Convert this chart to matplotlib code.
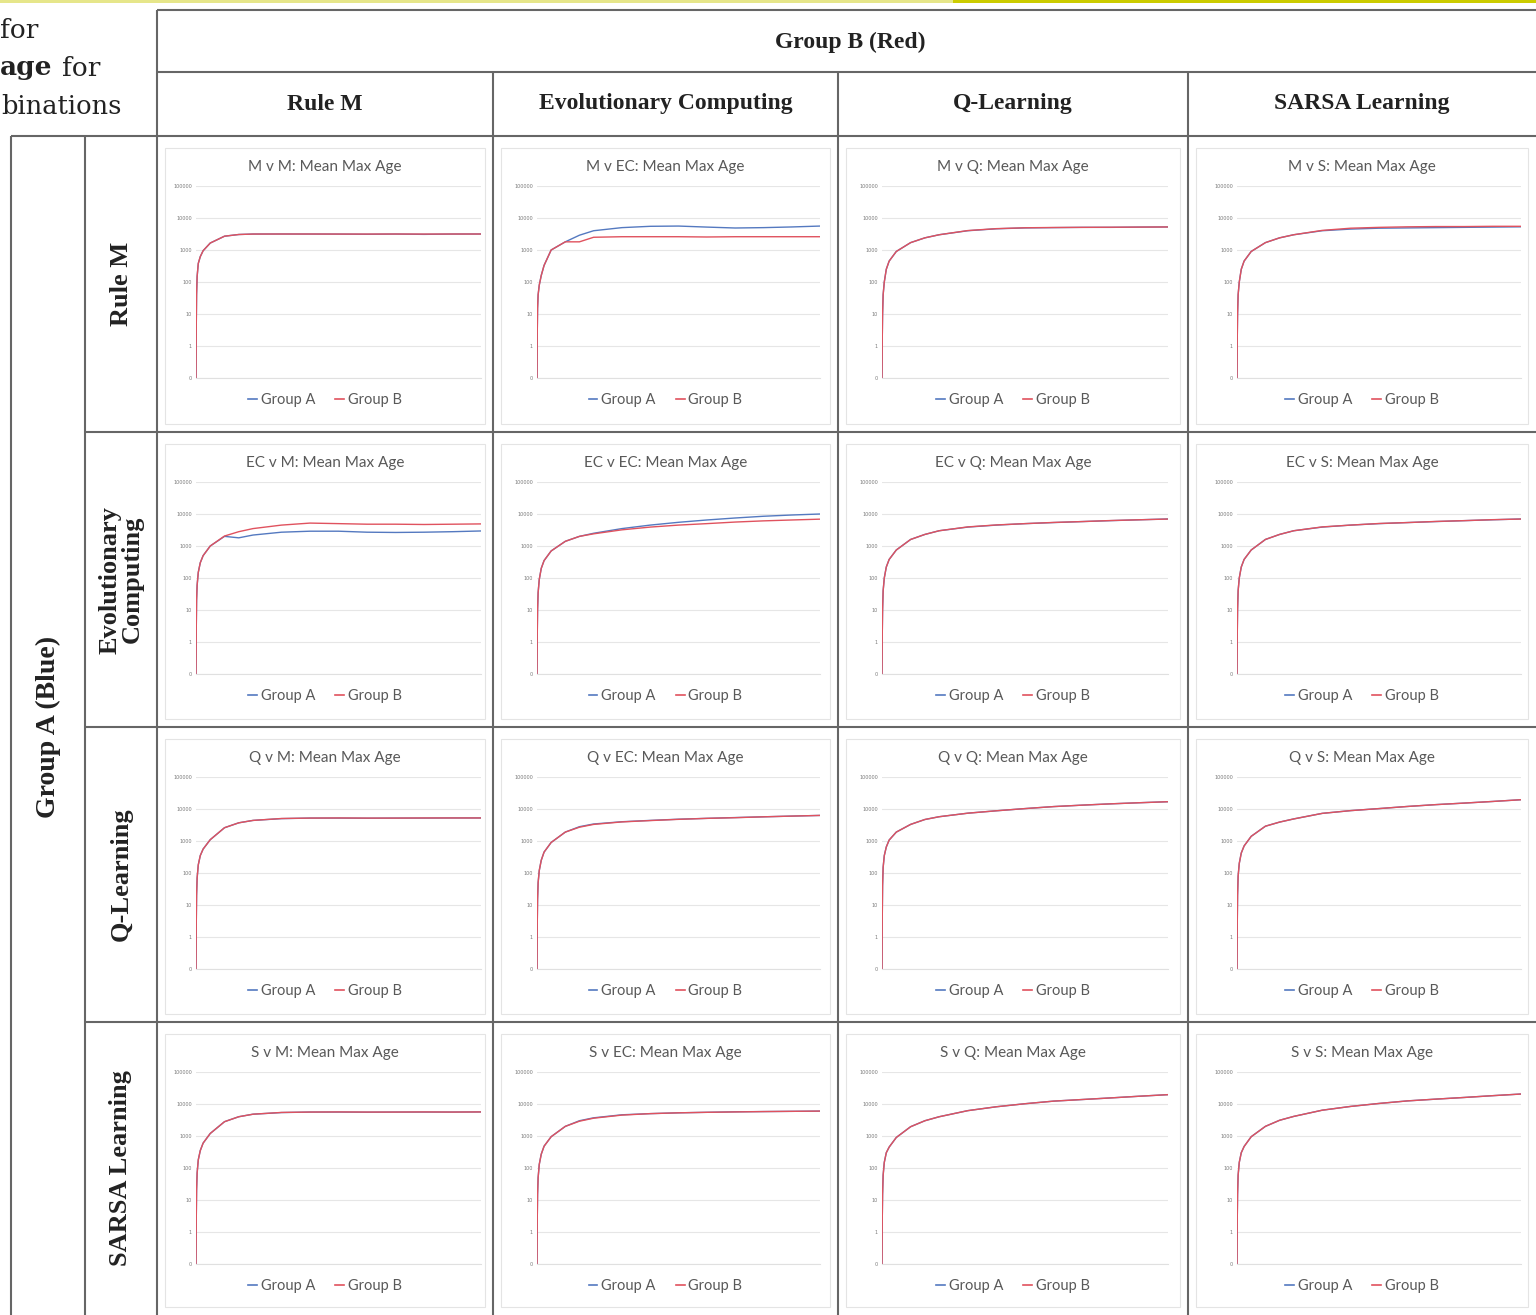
import matplotlib
matplotlib.use("Agg")
import matplotlib.pyplot as plt
from matplotlib.lines import Line2D
from matplotlib.patches import Rectangle

# ---------------- data ----------------
ROW_NAMES = ["Rule M", "Evolutionary\nComputing", "Q-Learning", "SARSA Learning"]
COL_NAMES = ["Rule M", "Evolutionary Computing", "Q-Learning", "SARSA Learning"]
ABBR = ["M", "EC", "Q", "S"]
GENS = [0, 1, 2, 4, 8, 15, 25, 50, 100, 150, 200, 300, 400, 500, 600, 700, 800, 900, 1000]
YTICKS = [0.1, 1, 10, 100, 1000, 10000, 100000]
YTICKLABELS = ["0", "1", "10", "100", "1000", "10000", "100000"]

# Group A (blue) / Group B (red) mean max age, row = Group A algorithm, col = Group B algorithm
M_v_M_A = [0.1, 5, 40, 150, 380, 620, 950, 1650, 2700, 3050, 3150, 3160, 3150, 3140, 3100, 3150, 3080, 3150, 3160]
M_v_M_B = [0.1, 5, 40, 150, 380, 620, 950, 1650, 2700, 3050, 3150, 3160, 3160, 3150, 3150, 3160, 3150, 3160, 3160]
M_v_EC_A = [0.1, 3, 15, 40, 80, 160, 330, 1000, 1800, 2900, 4000, 5000, 5500, 5600, 5200, 4870, 5000, 5250, 5600]
M_v_EC_B = [0.1, 3, 15, 40, 80, 160, 330, 1000, 1800, 1800, 2500, 2600, 2600, 2600, 2550, 2600, 2600, 2600, 2600]
M_v_Q_A = [0.1, 2, 10, 40, 100, 250, 450, 900, 1700, 2400, 3000, 4000, 4600, 4900, 5000, 5100, 5100, 5200, 5250]
M_v_Q_B = [0.1, 2, 10, 40, 100, 250, 450, 900, 1700, 2400, 3000, 4050, 4650, 4950, 5050, 5100, 5150, 5200, 5250]
M_v_S_A = [0.1, 2, 10, 40, 100, 250, 450, 900, 1700, 2400, 3000, 4000, 4500, 4800, 4900, 5000, 5100, 5200, 5300]
M_v_S_B = [0.1, 2, 10, 40, 100, 250, 450, 900, 1700, 2400, 3000, 4100, 4800, 5100, 5300, 5400, 5400, 5500, 5500]

EC_v_M_A = [0.1, 3, 20, 60, 150, 300, 500, 1000, 2000, 1800, 2200, 2700, 2900, 2900, 2700, 2650, 2700, 2800, 2950]
EC_v_M_B = [0.1, 3, 20, 60, 150, 300, 500, 1000, 2050, 2800, 3500, 4500, 5200, 5000, 4800, 4800, 4700, 4800, 4900]
EC_v_EC_A = [0.1, 2, 10, 35, 90, 200, 350, 700, 1400, 2000, 2500, 3500, 4500, 5500, 6500, 7500, 8500, 9300, 10000]
EC_v_EC_B = [0.1, 2, 10, 35, 90, 200, 350, 700, 1400, 2000, 2400, 3200, 3900, 4500, 5000, 5600, 6100, 6500, 6900]
EC_v_Q_A = [0.1, 2, 10, 40, 100, 220, 380, 750, 1600, 2300, 3000, 3900, 4500, 5000, 5400, 5800, 6200, 6600, 7000]
EC_v_Q_B = [0.1, 2, 10, 40, 100, 220, 380, 750, 1600, 2300, 3000, 3950, 4550, 5000, 5450, 5800, 6250, 6600, 6950]
EC_v_S_A = [0.1, 2, 10, 40, 100, 220, 380, 750, 1600, 2300, 3000, 3900, 4500, 5000, 5400, 5800, 6200, 6600, 7000]
EC_v_S_B = [0.1, 2, 10, 40, 100, 220, 380, 750, 1600, 2300, 3000, 3950, 4500, 5050, 5400, 5850, 6200, 6650, 6950]

Q_v_M_A = [0.1, 3, 20, 70, 180, 350, 560, 1100, 2600, 3700, 4400, 5000, 5200, 5200, 5150, 5200, 5200, 5250, 5250]
Q_v_M_B = [0.1, 3, 20, 70, 180, 350, 560, 1100, 2600, 3700, 4400, 5050, 5200, 5250, 5200, 5200, 5250, 5250, 5250]
Q_v_EC_A = [0.1, 3, 15, 50, 120, 250, 450, 900, 1900, 2800, 3400, 4000, 4400, 4800, 5100, 5400, 5700, 6000, 6300]
Q_v_EC_B = [0.1, 3, 15, 50, 120, 250, 450, 900, 1900, 2700, 3300, 3950, 4350, 4750, 5100, 5350, 5700, 6000, 6300]
Q_v_Q_A = [0.1, 5, 40, 150, 350, 650, 1070, 1900, 3300, 4700, 5740, 7400, 8800, 10300, 11900, 13200, 14500, 15700, 16900]
Q_v_Q_B = [0.1, 5, 40, 150, 350, 650, 1070, 1900, 3300, 4700, 5740, 7400, 8800, 10300, 11900, 13200, 14500, 15700, 16900]
Q_v_S_A = [0.1, 3, 20, 80, 200, 420, 700, 1400, 2900, 3900, 4900, 7300, 8900, 10300, 12000, 13700, 15300, 17200, 19500]
Q_v_S_B = [0.1, 3, 20, 80, 200, 420, 700, 1400, 2900, 3900, 4900, 7300, 8900, 10300, 12000, 13700, 15300, 17200, 19500]

S_v_M_A = [0.1, 3, 20, 70, 180, 350, 600, 1200, 2800, 4000, 4800, 5400, 5600, 5600, 5550, 5600, 5600, 5600, 5650]
S_v_M_B = [0.1, 3, 20, 70, 180, 350, 600, 1200, 2800, 4000, 4800, 5450, 5600, 5650, 5600, 5600, 5650, 5600, 5650]
S_v_EC_A = [0.1, 3, 15, 50, 130, 270, 480, 950, 2000, 3000, 3700, 4600, 5000, 5300, 5500, 5700, 5800, 5900, 6000]
S_v_EC_B = [0.1, 3, 15, 50, 130, 270, 480, 950, 2000, 2900, 3600, 4500, 5000, 5300, 5500, 5650, 5800, 5900, 6000]
S_v_Q_A = [0.1, 3, 15, 60, 150, 300, 450, 900, 1950, 3000, 4000, 6200, 8200, 10200, 12300, 13800, 15500, 17500, 19600]
S_v_Q_B = [0.1, 3, 15, 60, 150, 300, 450, 900, 1950, 3000, 4000, 6200, 8200, 10200, 12300, 13800, 15500, 17500, 19600]
S_v_S_A = [0.1, 3, 15, 60, 150, 300, 470, 950, 2000, 3100, 4100, 6400, 8400, 10400, 12500, 14200, 16000, 18200, 20500]
S_v_S_B = [0.1, 3, 15, 60, 150, 300, 470, 950, 2000, 3100, 4100, 6400, 8400, 10400, 12500, 14200, 16000, 18200, 20500]

SERIES = {
    (0, 0): (M_v_M_A, M_v_M_B), (0, 1): (M_v_EC_A, M_v_EC_B), (0, 2): (M_v_Q_A, M_v_Q_B), (0, 3): (M_v_S_A, M_v_S_B),
    (1, 0): (EC_v_M_A, EC_v_M_B), (1, 1): (EC_v_EC_A, EC_v_EC_B), (1, 2): (EC_v_Q_A, EC_v_Q_B), (1, 3): (EC_v_S_A, EC_v_S_B),
    (2, 0): (Q_v_M_A, Q_v_M_B), (2, 1): (Q_v_EC_A, Q_v_EC_B), (2, 2): (Q_v_Q_A, Q_v_Q_B), (2, 3): (Q_v_S_A, Q_v_S_B),
    (3, 0): (S_v_M_A, S_v_M_B), (3, 1): (S_v_EC_A, S_v_EC_B), (3, 2): (S_v_Q_A, S_v_Q_B), (3, 3): (S_v_S_A, S_v_S_B),
}

# ---------------- layout (pixels) ----------------
W, H = 1536, 1315
COL_X = [157, 493, 838, 1188, 1536]
ROW_Y = [136, 432, 727, 1022, 1315]
PLOT_L = [196, 537, 882, 1237]
PLOT_R = [481, 820, 1168, 1521]
BLUE = "#5479c0"
RED = "#e0525e"
LINE_C = "#666666"
TXT_C = "#595959"

fig = plt.figure(figsize=(W / 100, H / 100), dpi=100)
fig.patch.set_facecolor("white")


def fx(x):
    return x / W


def fy(y):
    return 1 - y / H


def seg(x0, y0, x1, y1, color=LINE_C, lw=1.5):
    fig.add_artist(Line2D([fx(x0), fx(x1)], [fy(y0), fy(y1)], transform=fig.transFigure,
                          color=color, lw=lw, solid_capstyle="butt"))


# yellow strip at top
fig.add_artist(Rectangle((fx(0), fy(3)), fx(953), 3 / H, transform=fig.transFigure,
                         facecolor="#e6e68a", edgecolor="none"))
fig.add_artist(Rectangle((fx(953), fy(3)), fx(1536 - 953), 3 / H, transform=fig.transFigure,
                         facecolor="#cccc00", edgecolor="none"))

# table lines
seg(157, 10, 1536, 10)
seg(157, 72, 1536, 72)
seg(11, 136, 1536, 136)
for y in ROW_Y[1:4]:
    seg(85, y, 1536, y)
seg(157, 10, 157, 1315)
for x in COL_X[1:4]:
    seg(x, 72, x, 1315)
seg(11, 136, 11, 1315)
seg(85, 136, 85, 1315)

# left caption text (partially visible in the reference)
fig.text(fx(0), fy(30), "for", ha="left", va="center", fontsize=19, family="DejaVu Serif", color="#222222")
fig.text(fx(0), fy(68), "age", ha="left", va="center", fontsize=19, family="DejaVu Serif",
         fontweight="bold", color="#222222")
fig.text(fx(62), fy(68), "for", ha="left", va="center", fontsize=19, family="DejaVu Serif", color="#222222")
fig.text(fx(1), fy(106), "binations", ha="left", va="center", fontsize=18.5, family="DejaVu Serif", color="#222222")

HEAD_FONT = dict(family="Liberation Serif", fontweight="bold", color="#222222")
fig.text(fx(850), fy(42), "Group B (Red)", ha="center", va="center", fontsize=17, **HEAD_FONT)
for c in range(4):
    fig.text(fx((COL_X[c] + COL_X[c + 1]) / 2), fy(104), COL_NAMES[c], ha="center", va="center",
             fontsize=17, **HEAD_FONT)
for r in range(4):
    fig.text(fx(121), fy((ROW_Y[r] + ROW_Y[r + 1]) / 2), ROW_NAMES[r], ha="center", va="center",
             rotation=90, fontsize=19, linespacing=0.95, multialignment="center", **HEAD_FONT)
fig.text(fx(48), fy(727), "Group A (Blue)", ha="center", va="center", rotation=90, fontsize=20, **HEAD_FONT)

# panels
for r in range(4):
    for c in range(4):
        cx0, cx1 = COL_X[c], COL_X[c + 1]
        cy0, cy1 = ROW_Y[r], ROW_Y[r + 1]
        cxm = (cx0 + cx1) / 2
        fig.add_artist(Rectangle((fx(cx0 + 8), fy(cy1 - 8)), (cx1 - cx0 - 16) / W, (cy1 - cy0 - 20) / H,
                                 transform=fig.transFigure, facecolor="none", edgecolor="#e4e4e4", lw=0.8))
        top, bot = cy0 + 50, cy0 + 242
        ax = fig.add_axes([fx(PLOT_L[c]), fy(bot), (PLOT_R[c] - PLOT_L[c]) / W, (bot - top) / H])
        ax.set_facecolor("none")
        a_vals, b_vals = SERIES[(r, c)]
        ax.plot(GENS, a_vals, color=BLUE, lw=1.0)
        ax.plot(GENS, b_vals, color=RED, lw=1.0)
        ax.set_yscale("log")
        ax.set_ylim(0.1, 100000)
        ax.set_xlim(0, 1000)
        ax.set_yticks(YTICKS)
        ax.set_yticklabels(YTICKLABELS)
        ax.yaxis.set_minor_locator(matplotlib.ticker.NullLocator())
        ax.set_xticks([])
        ax.tick_params(axis="y", length=0, pad=3, labelsize=3.5, labelcolor="#7a7a7a")
        ax.yaxis.grid(True, color="#e6e6e6", lw=0.8)
        ax.set_axisbelow(True)
        for s in ["top", "right", "left"]:
            ax.spines[s].set_visible(False)
        ax.spines["bottom"].set_color("#e0e0e0")
        ax.spines["bottom"].set_linewidth(0.8)
        fig.text(fx(cxm), fy(cy0 + 31), f"{ABBR[r]} v {ABBR[c]}: Mean Max Age", ha="center", va="center",
                 fontsize=11, family="Lato", color=TXT_C)
        handles = [Line2D([], [], color=BLUE, lw=1.2), Line2D([], [], color=RED, lw=1.2)]
        ax.legend(handles, ["Group A", "Group B"], loc="center", bbox_to_anchor=(fx(cxm), fy(cy0 + 264)),
                  bbox_transform=fig.transFigure, ncol=2, frameon=False, prop=dict(family="Lato", size=10.5),
                  handlelength=0.6, handletextpad=0.25, columnspacing=1.4, labelcolor=TXT_C)

fig.savefig("out.png", dpi=100, facecolor="white")
